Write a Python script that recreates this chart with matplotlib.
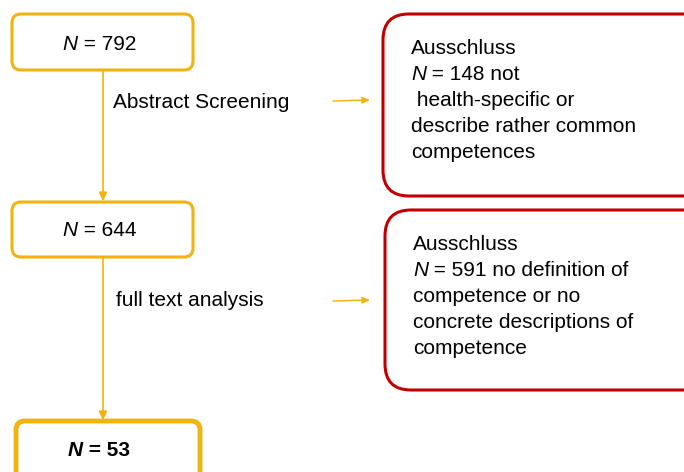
import matplotlib.pyplot as plt
from matplotlib.patches import FancyBboxPatch

plt.rcParams['font.family'] = ['Liberation Sans', 'DejaVu Sans']

orange = '#F0B310'
red = '#C00000'

# flow steps
step_counts = ['792', '644', '53']
step_labels = ['Abstract Screening', 'full text analysis']
excl_counts = ['148', '591']
excl_first = [' not', ' no definition of']
excl_rest = [[' health-specific or', 'describe rather common', 'competences'],
             ['competence or no', 'concrete descriptions of', 'competence']]

fig = plt.figure(figsize=(6.84, 4.72), dpi=100)
ax = fig.add_axes([0, 0, 1, 1])
ax.set_xlim(0, 684)
ax.set_ylim(472, 0)
ax.axis('off')

# (x, y, w, h, lw)
boxes = [(12, 14, 181, 56, 2.2), (12, 202, 181, 55, 2.2), (16, 421, 184, 70, 3.5)]
text_y = [44, 231, 451]
for i, (x, y, w, h, lw) in enumerate(boxes):
    ax.add_patch(FancyBboxPatch((x, y), w, h, boxstyle='round,pad=0,rounding_size=9',
                                fc='white', ec=orange, lw=lw))
    bold = 'bold' if i == 2 else 'normal'
    t = ax.text(x + w / 2 - 25, text_y[i], 'N', style='italic', fontweight=bold,
                fontsize=15, ha='right', va='center')
    ax.annotate(' = ' + step_counts[i], xy=(1, 0), xycoords=t, fontsize=15,
                fontweight=bold, ha='left', va='bottom')

# vertical arrows
for (y0, y1) in [(70, 201), (257, 420)]:
    ax.annotate('', xy=(103, y1), xytext=(103, y0),
                arrowprops=dict(arrowstyle='-|>,head_length=0.5,head_width=0.25',
                                color=orange, lw=1.2, shrinkA=0, shrinkB=0))

ax.text(113, 102, step_labels[0], fontsize=15, va='center')
ax.text(116, 301, step_labels[1], fontsize=15, va='center')

# side arrows
for y in [100, 300]:
    ax.annotate('', xy=(370, y), xytext=(333, y + 1),
                arrowprops=dict(arrowstyle='-|>,head_length=0.45,head_width=0.2',
                                color=orange, lw=1.0, shrinkA=0, shrinkB=0))

# exclusion boxes
red_boxes = [(383, 14, 330, 182), (385, 210, 330, 180)]
for i, (x, y, w, h) in enumerate(red_boxes):
    ax.add_patch(FancyBboxPatch((x, y), w, h, boxstyle='round,pad=0,rounding_size=26',
                                fc='white', ec=red, lw=2.2))
    ty = y + 35
    ax.text(x + 28, ty, 'Ausschluss', fontsize=15, va='center')
    t = ax.text(x + 28, ty + 25.8, 'N', style='italic', fontsize=15, va='center')
    ax.annotate(' = ' + excl_counts[i] + excl_first[i], xy=(1, 0), xycoords=t,
                fontsize=15, ha='left', va='bottom')
    for k, line in enumerate(excl_rest[i]):
        ax.text(x + 28, ty + 25.8 * (k + 2), line, fontsize=15, va='center')

fig.savefig('out.png', dpi=100)
